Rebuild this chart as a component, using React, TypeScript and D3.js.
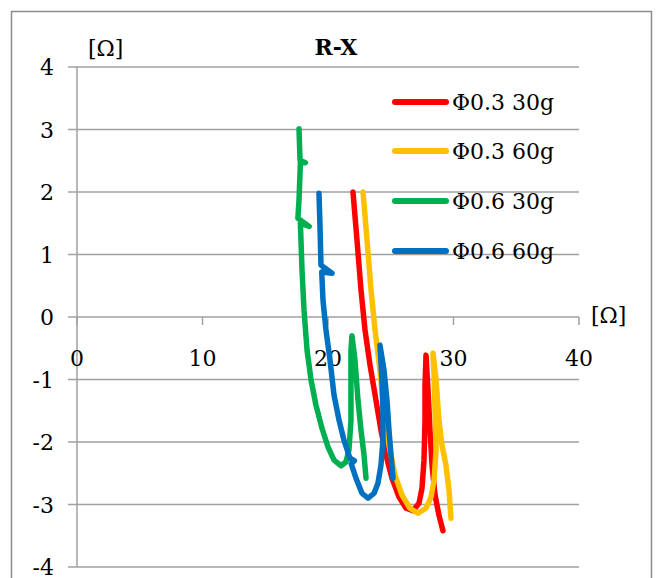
import React from "react";
import * as d3 from "d3";

type P = [number, number];

const seriesNames = ["Φ0.3 30g", "Φ0.3 60g", "Φ0.6 30g", "Φ0.6 60g"];
const seriesColors = ["#FF0000", "#FFC000", "#00B050", "#0070C0"];

const red: P[] = [
  [21.99, 2.0], [22.31, 1.23], [22.63, 0.43], [22.95, -0.21], [23.35, -0.77],
  [23.82, -1.33], [24.22, -1.81], [24.62, -2.21], [25.1, -2.58], [25.66, -2.88],
  [26.22, -3.06], [26.77, -3.1], [27.25, -2.98], [27.49, -2.74], [27.65, -2.29],
  [27.73, -1.65], [27.73, -1.09], [27.81, -0.61], [27.97, -1.17], [28.13, -1.81],
  [28.29, -2.37], [28.53, -2.85], [28.84, -3.17], [29.16, -3.42],
];
const yellow: P[] = [
  [22.79, 2.0], [23.11, 1.23], [23.43, 0.43], [23.75, -0.21], [24.14, -0.85],
  [24.46, -1.49], [24.86, -2.05], [25.34, -2.53], [25.9, -2.85], [26.53, -3.06],
  [27.17, -3.14], [27.81, -3.06], [28.21, -2.88], [28.45, -2.61], [28.61, -2.13],
  [28.53, -1.49], [28.45, -0.93], [28.37, -0.58], [28.61, -1.01], [28.84, -1.65],
  [29.08, -2.05], [29.4, -2.37], [29.64, -2.77], [29.8, -3.22],
];
const green: P[] = [
  [17.69, 3.01], [17.74, 2.7], [17.77, 2.51], [18.2, 2.47], [17.8, 2.47],
  [17.69, 1.87], [17.6, 1.58], [18.5, 1.45], [17.8, 1.5], [17.93, 0.75],
  [18.09, 0.11], [18.33, -0.53], [18.65, -1.01], [19.04, -1.41], [19.52, -1.78],
  [20.0, -2.08], [20.48, -2.29], [21.04, -2.38], [21.43, -2.32], [21.67, -2.13],
  [21.83, -1.65], [21.83, -1.01], [21.83, -0.53], [21.91, -0.3], [22.15, -0.69],
  [22.39, -1.33], [22.63, -1.81], [22.87, -2.21], [23.03, -2.58],
];
const blue: P[] = [
  [19.28, 1.98], [19.36, 1.47], [19.44, 0.83], [20.32, 0.7], [19.5, 0.72],
  [19.6, 0.27], [19.84, -0.21], [20.16, -0.69], [20.48, -1.25], [20.88, -1.65],
  [21.27, -1.97], [21.75, -2.26], [22.1, -2.3], [21.85, -2.35], [22.23, -2.58],
  [22.71, -2.82], [23.19, -2.9], [23.67, -2.82], [23.98, -2.66], [24.22, -2.37],
  [24.38, -1.97], [24.38, -1.49], [24.3, -1.01], [24.14, -0.45], [24.46, -0.85],
  [24.7, -1.33], [24.86, -1.81], [25.02, -2.21], [25.18, -2.58],
];
const seriesData = [red, yellow, green, blue];

const xTicks = [0, 10, 20, 30, 40];
const yTicks = [-4, -3, -2, -1, 0, 1, 2, 3, 4];

const FONT = "'DejaVu Serif', serif";

export default function App() {
  const x = d3.scaleLinear().domain([0, 40]).range([77, 579]);
  const y = d3.scaleLinear().domain([-4, 4]).range([567, 67]);
  const line = d3
    .line<P>()
    .x((d) => x(d[0]))
    .y((d) => y(d[1]));
  const grid = "#a0a0a0";
  const legendY = [102, 151, 201, 251];

  return (
    <svg
      width={661}
      height={578}
      style={{ position: "absolute", left: 0, top: 0, background: "#fff" }}
    >
      <rect x={0} y={0} width={661} height={578} fill="#fff" />
      <rect x={11.5} y={11.5} width={640} height={620} fill="none" stroke="#8c8c8c" strokeWidth={1.5} />
      {yTicks.map((t) => (
        <g key={"y" + t}>
          <line x1={x(0) - 9} x2={x(40)} y1={y(t)} y2={y(t)} stroke={grid} strokeWidth={1.5} />
          <text
            x={54}
            y={y(t) + 2}
            textAnchor="end"
            dominantBaseline="middle"
            fontFamily={FONT}
            fontSize={22}
            fill="#000"
          >
            {t}
          </text>
        </g>
      ))}
      <line x1={x(0)} x2={x(0)} y1={y(4)} y2={y(-4)} stroke={grid} strokeWidth={1.5} />
      {xTicks.map((t) => (
        <g key={"x" + t}>
          <line x1={x(t)} x2={x(t)} y1={y(0)} y2={y(0) + 8} stroke={grid} strokeWidth={1.5} />
          <text
            x={x(t)}
            y={y(0) + 49}
            textAnchor="middle"
            fontFamily={FONT}
            fontSize={22}
            fill="#000"
          >
            {t}
          </text>
        </g>
      ))}
      <text x={336} y={55} textAnchor="middle" fontFamily={FONT} fontSize={22} fontWeight="bold">
        R-X
      </text>
      <text x={88} y={56} fontFamily={FONT} fontSize={22}>
        [Ω]
      </text>
      <text x={591} y={323} fontFamily={FONT} fontSize={22}>
        [Ω]
      </text>
      {seriesData.map((d, i) => (
        <path
          key={"s" + i}
          d={line(d) || ""}
          fill="none"
          stroke={seriesColors[i]}
          strokeWidth={5.5}
          strokeLinejoin="round"
          strokeLinecap="round"
        />
      ))}
      {seriesNames.map((n, i) => (
        <g key={"l" + i}>
          <line
            x1={395}
            x2={446}
            y1={legendY[i]}
            y2={legendY[i]}
            stroke={seriesColors[i]}
            strokeWidth={6}
            strokeLinecap="round"
          />
          <text x={452} y={legendY[i] + 8} fontFamily={FONT} fontSize={22} fill="#000">
            {n}
          </text>
        </g>
      ))}
    </svg>
  );
}
